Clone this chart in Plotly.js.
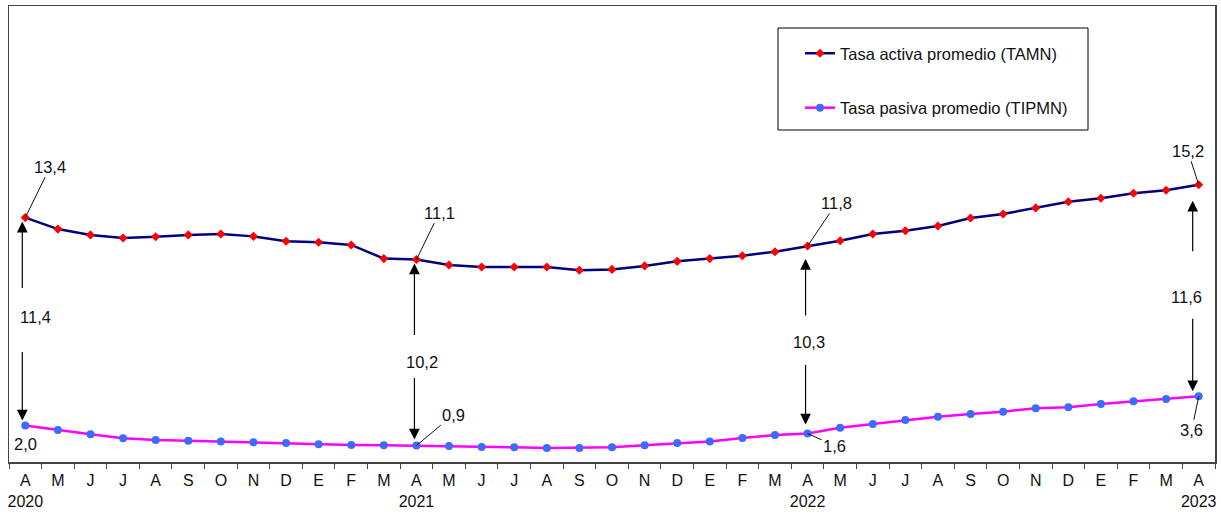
<!DOCTYPE html>
<html>
<head>
<meta charset="utf-8">
<script src="https://cdn.plot.ly/plotly-3.0.1.min.js"></script>
<style>
  html, body { margin: 0; padding: 0; background: #ffffff; }
  #chart { width: 1221px; height: 516px; }
</style>
</head>
<body>
<div id="chart"></div>
<script>
// ---- Data ----
const monthLabels = ['A','M','J','J','A','S','O','N','D','E','F','M',
                     'A','M','J','J','A','S','O','N','D','E','F','M',
                     'A','M','J','J','A','S','O','N','D','E','F','M','A'];
const yearLabels = ['2020', '2021', '2022', '2023'];
const yearIndex = [0, 12, 24, 36];

const tamn = [13.4, 12.77, 12.45, 12.28, 12.35, 12.45, 12.5, 12.37, 12.1, 12.05, 11.9, 11.15,
              11.1, 10.8, 10.69, 10.69, 10.69, 10.51, 10.56, 10.75, 11.0, 11.15, 11.31, 11.53,
              11.84, 12.13, 12.5, 12.68, 12.94, 13.38, 13.6, 13.93, 14.27, 14.46, 14.73, 14.9, 15.2];
const tipmn = [2.0, 1.75, 1.52, 1.3, 1.21, 1.17, 1.12, 1.08, 1.04, 0.97, 0.93, 0.92,
               0.9, 0.88, 0.82, 0.81, 0.77, 0.77, 0.81, 0.92, 1.04, 1.13, 1.32, 1.48,
               1.56, 1.88, 2.08, 2.3, 2.48, 2.63, 2.76, 2.95, 3.0, 3.18, 3.33, 3.45, 3.6];

const tamnLabels = ['13,4', '11,1', '11,8', '15,2'];
const tipmnLabels = ['2,0', '0,9', '1,6', '3,6'];
const spreadLabels = ['11,4', '10,2', '10,3', '11,6'];
const seriesNames = ['Tasa activa promedio (TAMN)', 'Tasa pasiva promedio (TIPMN)'];

// ---- Build ----
const xIdx = monthLabels.map((_, i) => i);
const tickText = monthLabels.map((m, i) => {
  const k = yearIndex.indexOf(i);
  return k >= 0 ? m + '<br>' + yearLabels[k] : m;
});
const minorVals = [];
for (let i = 0; i <= monthLabels.length; i++) minorVals.push(i - 0.5);

const ARIAL = '"Liberation Sans", Arial, sans-serif';

const traces = [
  {
    x: xIdx, y: tamn, name: seriesNames[0], type: 'scatter', mode: 'lines+markers',
    line: {color: '#000080', width: 2.5},
    marker: {color: '#ff0000', symbol: 'diamond', size: 7},
    legendgroup: 'a', cliponaxis: false
  },
  {
    x: xIdx, y: tipmn, name: seriesNames[1], type: 'scatter', mode: 'lines+markers',
    line: {color: '#ff00ff', width: 2.5},
    marker: {color: '#3a6cff', symbol: 'circle', size: 8},
    legendgroup: 'b', cliponaxis: false
  }
];

const labelFont = {family: ARIAL, size: 16.5, color: '#111'};
const ann = [];

// value labels with leader lines (offsets in px relative to the point)
const tamnOffsets = [[25, -51], [23, -47], [29, -43], [-11, -34]];
const tipmnOffsets = [null, [37, -31], [27, 12], [-7, 34]];
// spread label positions (axis units)
const spreadPos = [[0.31, 7.95], [12.17, 5.48], [24.04, 6.58], [35.64, 9.05]];
// arrows: [xshift, upTail, upStandoff, downTail, downStandoff]
const arrowCfg = [[-3, 72, 4, -75, 5], [-2, 77, 4, -69, 6], [-2, 71, 13, -70, 9], [-6, 68, 16, -79, 5]];

yearIndex.forEach((idx, k) => {
  ann.push({x: idx, y: tamn[idx], text: tamnLabels[k], showarrow: true, arrowhead: 0,
            arrowwidth: 1, arrowcolor: '#111', ax: tamnOffsets[k][0], ay: tamnOffsets[k][1],
            font: labelFont});
  if (tipmnOffsets[k]) {
    ann.push({x: idx, y: tipmn[idx], text: tipmnLabels[k], showarrow: true, arrowhead: 0,
              arrowwidth: 1, arrowcolor: '#111', ax: tipmnOffsets[k][0], ay: tipmnOffsets[k][1],
              font: labelFont});
  } else {
    ann.push({x: idx, y: tipmn[idx], text: tipmnLabels[k], showarrow: false, yshift: -18,
              font: labelFont});
  }
  ann.push({x: spreadPos[k][0], y: spreadPos[k][1], text: spreadLabels[k], showarrow: false,
            font: labelFont});
  const c = arrowCfg[k];
  ann.push({x: idx, y: tamn[idx], text: '', showarrow: true, arrowhead: 2, arrowsize: 1.8,
            arrowwidth: 1.2, arrowcolor: '#000', ax: 0, ay: c[1], standoff: c[2], xshift: c[0]});
  ann.push({x: idx, y: tipmn[idx], text: '', showarrow: true, arrowhead: 2, arrowsize: 1.8,
            arrowwidth: 1.2, arrowcolor: '#000', ax: 0, ay: c[3], standoff: c[4], xshift: c[0]});
});

const layout = {
  width: 1221, height: 516,
  margin: {l: 9, r: 6, t: 6, b: 54},
  paper_bgcolor: '#ffffff', plot_bgcolor: '#ffffff',
  showlegend: true,
  legend: {
    x: (800 - 9) / 1206, xanchor: 'left', y: (462 - 36) / 456, yanchor: 'top',
    bgcolor: 'rgba(0,0,0,0)', borderwidth: 0,
    font: {family: ARIAL, size: 16.5, color: '#111'},
    traceorder: 'grouped', tracegroupgap: 30
  },
  xaxis: {
    range: [-0.5, 36.5], tickmode: 'array', tickvals: xIdx, ticktext: tickText,
    ticks: '', showgrid: false, zeroline: false,
    showline: true, mirror: true, linecolor: '#444', linewidth: 1.5,
    tickfont: {family: ARIAL, size: 16, color: '#111'},
    ticklabelstandoff: 3,
    minor: {tickmode: 'array', tickvals: minorVals, ticks: 'outside', ticklen: 5,
            tickcolor: '#444', tickwidth: 1, showgrid: false}
  },
  yaxis: {
    range: [0, 25], showticklabels: false, ticks: '', showgrid: false, zeroline: false,
    showline: true, mirror: true, linecolor: '#444', linewidth: 1.5
  },
  shapes: [
    {type: 'rect', xref: 'paper', yref: 'paper',
     x0: (778 - 9) / 1206, x1: (1088 - 9) / 1206,
     y0: (462 - 130) / 456, y1: (462 - 28) / 456,
     line: {color: '#000', width: 1}, fillcolor: 'rgba(0,0,0,0)'}
  ],
  annotations: ann
};

Plotly.newPlot('chart', traces, layout, {displayModeBar: false, staticPlot: true});
</script>
</body>
</html>
